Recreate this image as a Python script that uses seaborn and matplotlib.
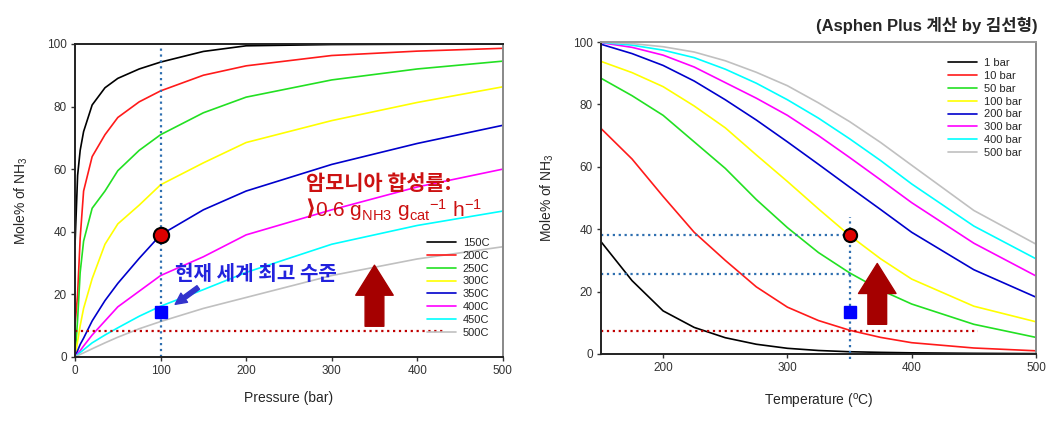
import numpy as np
import pandas as pd
import matplotlib.pyplot as plt
import seaborn as sns

# --- data ---
pressure = [0, 3, 6, 10, 20, 35, 50, 75, 100, 150, 200, 300, 400, 500]
temp_labels = ["150C", "200C", "250C", "300C", "350C", "400C", "450C", "500C"]
nh3_150 = [36, 58, 66, 72, 80.5, 86, 89, 92, 94.2, 97.6, 99.4, 99.8, 99.9, 100]
nh3_200 = [10, 20, 38, 53, 64, 71, 76.5, 81.5, 85, 90, 93, 96.3, 97.7, 98.6]
nh3_250 = [0, 12, 27, 37, 47.5, 53, 59.5, 66, 71, 78, 83, 88.5, 92, 94.5]
nh3_300 = [0, 5, 10, 15.5, 25, 36, 42.5, 48.5, 55, 62, 68.5, 75.5, 81.3, 86.3]
nh3_350 = [0, 2, 4, 6, 11.5, 18, 23.5, 31.5, 39, 47, 53, 61.5, 68.2, 74]
nh3_400 = [0, 1, 2, 3.5, 7, 11.5, 16, 21, 26, 32, 39, 47, 54.3, 60]
nh3_450 = [0, 0.7, 1.4, 2.3, 4.5, 7, 9.3, 13, 16.2, 21.5, 27, 36, 42, 46.6]
nh3_500 = [0, 0.4, 0.8, 1.3, 2.6, 4.5, 6.3, 9, 11.3, 15.5, 19, 26, 31.3, 35.2]

temperature = [150, 175, 200, 225, 250, 275, 300, 325, 350, 375, 400, 450, 500]
bar_labels = ["1 bar", "10 bar", "50 bar", "100 bar", "200 bar", "300 bar", "400 bar", "500 bar"]
nh3_1bar = [36, 23.5, 13.8, 8.5, 5.2, 3.1, 1.8, 1.1, 0.7, 0.5, 0.35, 0.2, 0.1]
nh3_10bar = [72.3, 62.5, 50.5, 39, 30, 21.5, 15, 10.7, 7.6, 5.3, 3.6, 1.9, 1.0]
nh3_50bar = [88.4, 82.8, 76.5, 68, 59.5, 49.5, 40.5, 32.5, 26, 20.5, 16, 9.5, 5.3]
nh3_100bar = [93.8, 90.2, 85.7, 79.5, 72.5, 63.8, 55.3, 46.5, 38, 30.5, 24, 15.3, 10.3]
nh3_200bar = [99.3, 96.3, 92.5, 87.5, 81.5, 75, 68, 60.8, 53.5, 46.3, 39, 27, 18.2]
nh3_300bar = [99.8, 98.3, 95.8, 92, 87, 82, 76.5, 70, 63, 55.8, 48.5, 35.5, 25]
nh3_400bar = [99.9, 99, 97.4, 95, 91.3, 86.8, 81.5, 75.6, 69, 62, 54.5, 41, 30.5]
nh3_500bar = [100, 99.5, 98.5, 96.8, 94, 90.3, 86, 80.5, 74.5, 67.8, 60.5, 46, 35.2]

line_colors = ["#000000", "#ff1a1a", "#22e022", "#ffff00", "#0000cc", "#ff00ff", "#00ffff", "#c0c0c0"]

left_rows = [nh3_150, nh3_200, nh3_250, nh3_300, nh3_350, nh3_400, nh3_450, nh3_500]
right_rows = [nh3_1bar, nh3_10bar, nh3_50bar, nh3_100bar, nh3_200bar, nh3_300bar, nh3_400bar, nh3_500bar]

df_p = pd.concat([pd.DataFrame({"P": pressure, "mole": v, "T": lab})
                  for lab, v in zip(temp_labels, left_rows)])
df_t = pd.concat([pd.DataFrame({"T": temperature, "mole": v, "bar": lab})
                  for lab, v in zip(bar_labels, right_rows)])

sns.set_style("ticks")
plt.rcParams["font.family"] = ["Liberation Sans", "Noto Sans CJK KR", "DejaVu Sans"]
plt.rcParams["mathtext.fontset"] = "custom"
plt.rcParams["mathtext.rm"] = "Liberation Sans"
plt.rcParams["mathtext.it"] = "Liberation Sans"

fig = plt.figure(figsize=(10.51, 4.29), dpi=100)
ax1 = fig.add_axes([0.0714, 0.168, 0.407, 0.7296])
ax2 = fig.add_axes([0.5718, 0.175, 0.4139, 0.727])

sns.lineplot(data=df_p, x="P", y="mole", hue="T", palette=line_colors, ax=ax1, linewidth=1.2)
sns.lineplot(data=df_t, x="T", y="mole", hue="bar", palette=line_colors, ax=ax2, linewidth=1.2)

kr = ["Noto Sans CJK KR", "Liberation Sans"]
lat = ["Liberation Sans", "Noto Sans CJK KR"]
blue_dot = "#2e6fb0"
red_dot = "#c00000"
arrow_red = "#a50000"

# --- left: pressure ---
ax1.set_xlim(0, 500)
ax1.set_ylim(0, 100)
ax1.set_xticks(range(0, 501, 100))
ax1.set_yticks(range(0, 101, 20))
ax1.plot([100, 100], [0, 100], ls=":", color=blue_dot, lw=1.6)
ax1.plot([0, 434], [8.2, 8.2], ls=":", color=red_dot, lw=1.6)
ax1.plot(100, 38.8, "o", ms=11, mfc="#dd0000", mec="black", mew=1.5, zorder=5)
ax1.plot(100, 14.3, "s", ms=9, color="#0000ff", zorder=5)
ax1.annotate("", xy=(350, 29.3), xytext=(350, 9.8),
             arrowprops=dict(arrowstyle="simple,head_width=1.0,head_length=0.8,tail_width=0.5",
                             mutation_scale=27, color=arrow_red, shrinkA=0, shrinkB=0))
ax1.annotate("", xy=(117, 16.8), xytext=(144, 22.2),
             arrowprops=dict(arrowstyle="simple,head_width=0.9,head_length=0.9,tail_width=0.35",
                             mutation_scale=9, color="#3333cc", shrinkA=0, shrinkB=0))
ax1.text(117, 26.8, "현재 세계 최고 수준", color="#2222dd", fontsize=14.5,
         fontweight="bold", family=kr, va="center")
ax1.text(270, 55.5, "암모니아 합성률:", color="#cc1111", fontsize=15,
         fontweight="bold", family=kr, va="center")
ax1.text(269, 47.3, "⟩", color="#cc1111", fontsize=16, fontweight="bold",
         family=["DejaVu Sans"], va="center")
ax1.text(281, 47, "0.6 g$_{\\mathregular{NH3}}$ g$_{\\mathregular{cat}}$$^{-1}$ h$^{-1}$",
         color="#cc1111", fontsize=15, family=lat, va="center")
ax1.set_xlabel("Pressure (bar)", fontsize=10, labelpad=10)
ax1.set_ylabel("Mole% of NH$_3$", fontsize=10, labelpad=12)
h1, l1 = ax1.get_legend_handles_labels()
ax1.legend(h1, l1, loc="lower left", bbox_to_anchor=(0.80, 0.03), frameon=False,
           fontsize=8, handlelength=2.6, labelspacing=0.25, handletextpad=0.6)

# --- right: temperature ---
ax2.set_xlim(150, 500)
ax2.set_ylim(0, 100)
ax2.set_xticks(range(200, 501, 100))
ax2.set_yticks(range(0, 101, 20))
ax2.plot([150, 350], [38.1, 38.1], ls=":", color=blue_dot, lw=1.6)
ax2.plot([150, 350], [25.7, 25.7], ls=":", color=blue_dot, lw=1.6)
ax2.plot([350, 350], [-1.5, 44], ls=":", color=blue_dot, lw=1.6, clip_on=False)
ax2.plot([150, 453], [7.5, 7.5], ls=":", color=red_dot, lw=1.6)
ax2.plot(350, 38, "o", ms=9.5, mfc="#dd0000", mec="black", mew=1.5, zorder=5)
ax2.plot(350, 13.4, "s", ms=8.5, color="#0000ff", zorder=5)
ax2.annotate("", xy=(372.3, 29), xytext=(372.3, 9.5),
             arrowprops=dict(arrowstyle="simple,head_width=1.0,head_length=0.8,tail_width=0.5",
                             mutation_scale=27, color=arrow_red, shrinkA=0, shrinkB=0))
ax2.set_xlabel("Temperature ($^{o}$C)", fontsize=10, labelpad=13)
ax2.set_ylabel("Mole% of NH$_3$", fontsize=10, labelpad=12)
h2, l2 = ax2.get_legend_handles_labels()
ax2.legend(h2, l2, loc="upper left", bbox_to_anchor=(0.775, 0.98), frameon=False,
           fontsize=8, handlelength=2.6, labelspacing=0.25, handletextpad=0.6)

fig.text(0.987, 0.94, "(Asphen Plus 계산 by 김선형)", ha="right", va="center",
         fontsize=12, fontweight="bold", family=lat)

for ax, top_c in ((ax1, "#222222"), (ax2, "#999999")):
    ax.spines["left"].set_color("#222222")
    ax.spines["bottom"].set_color("#222222")
    ax.spines["top"].set_color(top_c)
    ax.spines["right"].set_color("#888888")
    for s in ax.spines.values():
        s.set_linewidth(1.4)
    ax.tick_params(labelsize=8.5, labelcolor="#333333", length=3, width=1, color="#333333", pad=3)

fig.savefig("out.png", dpi=100)
